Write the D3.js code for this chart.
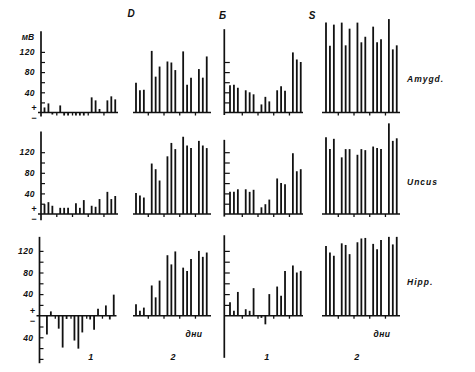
<!DOCTYPE html>
<html>
<head>
<meta charset="utf-8">
<script src="https://cdn.jsdelivr.net/npm/d3@7"></script>
<style>
  body { margin: 0; background: #fff; }
  svg { display: block; }
  text { font-family: "Liberation Sans", Arial, sans-serif; font-style: italic; font-weight: bold; fill: #111; }
</style>
</head>
<body>
<svg id="chart" width="475" height="372"></svg>
<script>
// 19 дней на панель, каждый 4-й день без записи (там засечка на оси)
const days = d3.range(19);
const tickDays = [3, 7, 11, 15];
const rowNames = ["Amygd.", "Uncus", "Hipp."];
const groupNames = ["D", "Б", "S"];
const panelNames = ["1", "2", "1", "2"];

// мВ, null = нет записи
const amygdD1 = [10, 18, -4, null, 14, -6, -6, null, -6, -6, -6, null, 30, 24, 7, null, 24, 32, 26];
const amygdD2 = [59, 44, 45, null, 122, 71, 91, null, 101, 99, 84, null, 121, 55, 69, null, 86, 69, 111];
const amygdB1 = [54, 55, 49, null, 44, 40, 36, null, 16, 31, 22, null, 44, 52, 43, null, 119, 105, 100];
const amygdS2 = [178, 132, 174, null, 178, 133, 166, null, 178, 139, 150, null, 170, 139, 145, null, 185, 125, 133];

const uncusD1 = [19, 23, 16, null, 12, 12, 12, null, 21, 12, 27, null, 16, 14, 29, null, 43, 29, 35];
const uncusD2 = [41, 36, 32, null, 98, 87, 65, null, 112, 138, 126, null, 150, 133, 128, null, 142, 133, 128];
const uncusB1 = [43, 43, 48, null, 48, 43, 47, null, 13, 19, 28, null, 69, 60, 58, null, 118, 83, 87];
const uncusS2 = [149, 126, 146, null, 110, 126, 126, null, 115, 126, 124, null, 131, 128, 126, null, 176, 142, 147];

const hippD1 = [null, -35, 8, null, -24, -59, -6, null, -46, -61, -31, null, -7, -26, 13, null, 19, -7, 39];
const hippD2 = [21, 9, 15, null, 56, 34, 65, null, 112, 95, 119, null, 89, 83, 105, null, 120, 109, 117];
const hippB1 = [25, 9, 44, null, 12, 9, 51, null, -4, -16, 40, null, 54, 37, 83, null, 93, 80, 83];
const hippS2 = [129, 117, 111, null, 134, 131, 114, null, 136, 143, 144, null, 133, 123, 140, null, 146, 132, 146];

const leftTicks = [20, 40, 60, 80, 100, 120];
const leftTicksNeg = [-20, -40, -60, -80];
const leftLabels = [120, 80, 40, -40];
const bTicks = [[20, 40, 60, 80, 100], [20, 40, 60, 80, 100, 120], [20, 40, 60, 80, 100, 120]];

const series = [
  [amygdD1, amygdD2, amygdB1, amygdS2],
  [uncusD1, uncusD2, uncusB1, uncusS2],
  [hippD1, hippD2, hippB1, hippS2]
];

// раскладка
const STEP = 3.93;
const rowBase = [112.5, 214, 315.7];
const rowTop120 = [51.9, 152.2, 250.9];
const d1Shift = [0, 0, -1.5];
const panels = [
  { x0: 44.5, from: -4, to: 118 },
  { x0: 136, from: 133, to: 211 },
  { x0: 230, from: 224.3, to: 303 },
  { x0: 326, from: 322, to: 400 }
];
const d1Axis = { x: 41, top: [161, 160, 146], bottom: [-8, -12, -88] };
const bAxis = { x: 224.3, top: [165, 144, 149], bottom: [-5, -5, -78] };
const ink = "#111";

const svg = d3.select("#chart");

rowNames.forEach((name, r) => {
  const y = d3.scaleLinear().domain([0, 120]).range([rowBase[r], rowTop120[r]]);

  panels.forEach((p, c) => {
    const dx = c === 0 ? d1Shift[r] : 0;
    const g = svg.append("g").attr("transform", `translate(${dx},0)`);
    const x = d3.scaleLinear().domain([0, 18]).range([p.x0, p.x0 + 18 * STEP]);
    const from = c === 0 ? d1Axis.x - 3 : p.from;

    // базовая линия
    g.append("line")
      .attr("x1", from).attr("x2", p.to)
      .attr("y1", y(0)).attr("y2", y(0))
      .attr("stroke", ink).attr("stroke-width", 1.6);

    // засечки по дням
    const xa = g.append("g").attr("transform", `translate(0,${y(0)})`)
      .call(d3.axisBottom(x).tickValues(tickDays).tickSize(3).tickFormat(""));
    xa.select(".domain").remove();
    xa.selectAll("line").attr("stroke", ink).attr("stroke-width", 1.3);

    // столбики
    const vals = series[r][c];
    g.selectAll(".bar")
      .data(days.filter(d => vals[d] != null))
      .join("line")
      .attr("class", "bar")
      .attr("x1", d => x(d)).attr("x2", d => x(d))
      .attr("y1", y(0)).attr("y2", d => y(vals[d]))
      .attr("stroke", ink).attr("stroke-width", 1.8);

    if (c === 0) {
      g.append("line")
        .attr("x1", d1Axis.x).attr("x2", d1Axis.x)
        .attr("y1", y(d1Axis.top[r])).attr("y2", y(d1Axis.bottom[r]))
        .attr("stroke", ink).attr("stroke-width", 1.7);
      const tv = r === 2 ? leftTicks.concat(leftTicksNeg) : leftTicks;
      const ya = g.append("g").attr("transform", `translate(${d1Axis.x},0)`)
        .call(d3.axisLeft(y).tickValues(tv).tickSize(-4).tickPadding(6)
          .tickFormat(v => leftLabels.includes(v) ? Math.abs(v) : ""));
      ya.select(".domain").remove();
      ya.selectAll("line").attr("stroke", ink).attr("stroke-width", 1.2);
      ya.selectAll("text").attr("font-size", 8.5).attr("letter-spacing", 0.4)
        .attr("font-family", null).attr("fill", ink);
      g.append("text").attr("x", 34).attr("y", y(0) - 5)
        .attr("text-anchor", "middle").attr("dominant-baseline", "central")
        .attr("font-size", 9).text("+");
      g.append("text").attr("x", 34).attr("y", y(0) + 5)
        .attr("text-anchor", "middle").attr("dominant-baseline", "central")
        .attr("font-size", 9).text("−");
    }

    if (c === 2) {
      g.append("line")
        .attr("x1", bAxis.x).attr("x2", bAxis.x)
        .attr("y1", y(bAxis.top[r])).attr("y2", y(bAxis.bottom[r]))
        .attr("stroke", ink).attr("stroke-width", 1.7);
      const ba = g.append("g").attr("transform", `translate(${bAxis.x},0)`)
        .call(d3.axisLeft(y).tickValues(bTicks[r]).tickSize(-5.5).tickFormat(""));
      ba.select(".domain").remove();
      ba.selectAll("line").attr("stroke", ink).attr("stroke-width", 1.2);
    }
  });

  svg.append("text")
    .attr("x", 407).attr("y", (rowBase[r] + rowTop120[r]) / 2 + 2 + (r === 0 ? -2 : 0))
    .attr("font-size", 8.5).attr("letter-spacing", 1)
    .text(name);
});

// подписи
svg.append("text").attr("x", 28).attr("y", 40).attr("text-anchor", "middle")
  .attr("font-size", 8.5).text("мВ");

const groupX = [131, 222.5, 312];
const groupY = [17, 19, 18.5];
groupNames.forEach((n, i) => {
  svg.append("text").attr("x", groupX[i]).attr("y", groupY[i])
    .attr("text-anchor", "middle").attr("font-size", 10).text(n);
});

const panelLabelX = [90.7, 173, 266.7, 356.7];
panelNames.forEach((n, i) => {
  svg.append("text").attr("x", panelLabelX[i]).attr("y", 360)
    .attr("text-anchor", "middle").attr("font-size", 9).text(n);
});

[194, 382].forEach(cx => {
  svg.append("text").attr("x", cx).attr("y", 337)
    .attr("text-anchor", "middle").attr("font-size", 8.5).attr("letter-spacing", 0.5)
    .text("дни");
});
</script>
</body>
</html>
